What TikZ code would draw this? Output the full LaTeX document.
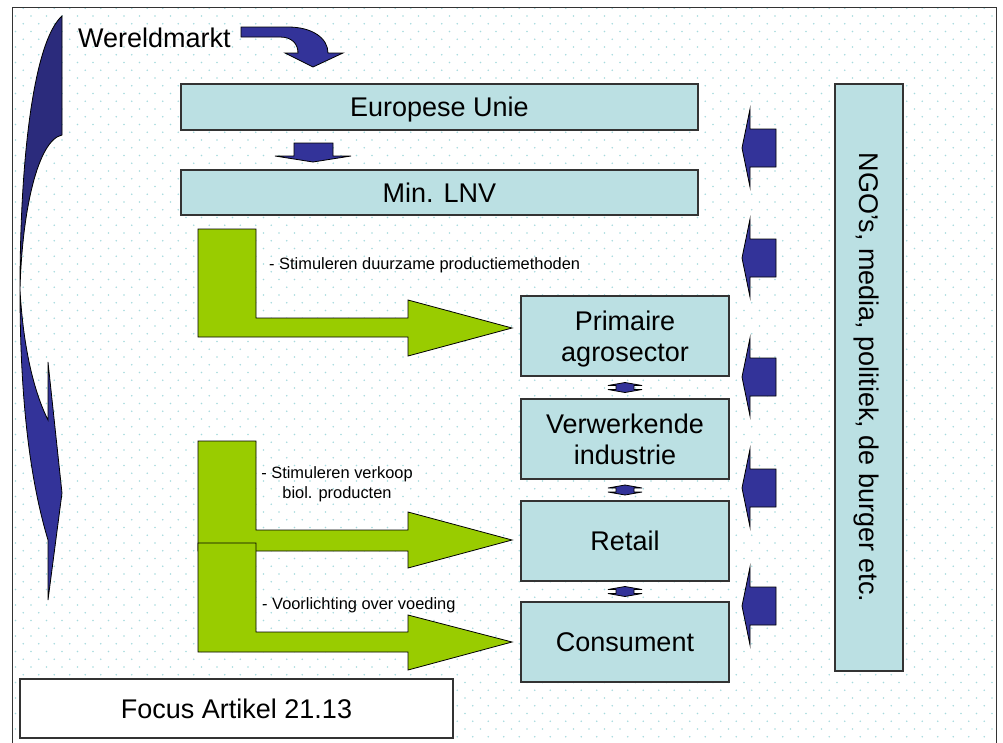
\documentclass[tikz,border=0pt]{standalone}
\usepackage{fontspec}
\setmainfont{Liberation Sans}
\usetikzlibrary{calc}
\definecolor{boxfill}{HTML}{BBE0E3}
\definecolor{leafgreen}{HTML}{99CC00}
\definecolor{navy}{HTML}{333399}
\definecolor{darknavy}{HTML}{2B2B7C}
\definecolor{dotcol}{HTML}{A6DADD}
\definecolor{edge}{HTML}{333333}

\begin{document}
\begin{tikzpicture}[x=1pt, y=-1pt,
		box/.style={draw=edge, line width=1.2pt, fill=boxfill, inner sep=0pt, align=center, text depth=0pt,
			font=\fontsize{27}{31.5}\selectfont},
		greenarr/.style={draw=black, line width=.8pt, fill=leafgreen},
		bluearr/.style={draw=black, line width=.8pt, fill=navy},
		small/.style={inner sep=0pt, font=\fontsize{16.4}{20}\selectfont}]
				\useasboundingbox (0,0) rectangle (1003,742);
				\begin{scope}
					\clip (12,7) rectangle (996,742);
					\foreach \r in {0,...,94} {
						\pgfmathsetmacro{\yy}{8.3+7.75*\r}
						\pgfmathsetmacro{\xs}{7.75+7.75*mod(\r,2)}
						\fill[dotcol] \foreach \c in {0,...,64} {(\xs+15.5*\c,\yy) circle (.9)};
					}
				\end{scope}
				\draw[edge, line width=1pt] (12,745) -- (12,7) -- (996,7) -- (996,745);
				% linker pijl
				\draw[bluearr, fill=darknavy] (62,16) -- (62,135) .. controls (38,140) and (22,210) .. (20,290)
					.. controls (20,150) and (35,40) .. (62,16) -- cycle;
				\draw[bluearr] (20,290) .. controls (24,360) and (38,400) .. (48,420) -- (48,362) -- (62,493) -- (48,600)
					-- (48,540) .. controls (30,480) and (20,400) .. (20,290) -- cycle;
				\node[inner sep=0pt, anchor=base west, font=\fontsize{27}{32}\selectfont] (wm) at (78,47) {Wereldmarkt};
				\draw[bluearr] (241,27) -- (288,27) .. controls (312,27) and (328,38) .. (328,53) -- (343,53) -- (313,67)
					-- (285,53) -- (298,53) .. controls (298,44) and (292,37) .. (280,37) -- (241,37) -- cycle;
				\node[box, minimum width=517pt, minimum height=46pt] (eu) at (439.5,107) {Europese Unie};
				\node[box, minimum width=517pt, minimum height=45pt] (lnv) at (439.5,192.5) {Min. LNV};
				\draw[bluearr] (294,143) -- (333,143) -- (333,156) -- (351,156) -- (313,162) -- (275,156) -- (294,156) -- cycle;
				\node[box, minimum width=208pt, minimum height=80pt] (prim) at (625,336) {Primaire\\agrosector};
				\node[box, minimum width=208pt, minimum height=80pt] (verw) at (625,439) {Verwerkende\\industrie};
				\node[box, minimum width=208pt, minimum height=80pt] (retail) at (625,541) {Retail};
				\node[box, minimum width=208pt, minimum height=80pt] (cons) at (625,642) {Consument};
				\node[box, rotate=-90, minimum width=587pt, minimum height=68pt] (ngo) at (869,377.5) {NGO’s, media, politiek, de burger etc.};
				\node[box, fill=white, minimum width=433pt, minimum height=59pt] (focus) at (236.5,708.5) {Focus Artikel 21.13};
				\foreach \a/\b in {prim/verw, verw/retail, retail/cons} {
					\coordinate (m) at ($(\a.south)!.5!(\b.north)$);
					\draw[bluearr, shift={(m)}] (0,-5) -- (17,-2) -- (9,-2) -- (9,2) -- (17,2) -- (0,5) -- (-17,2) -- (-9,2)
						-- (-9,-2) -- (-17,-2) -- cycle;
				}
				\foreach \c in {148,258,377,488,606} {
					\draw[bluearr] (776,\c-19) -- (750,\c-19) -- (750,\c-39) -- (742,\c) -- (750,\c+39) -- (750,\c+19)
						-- (776,\c+19) -- cycle;
				}
				% groene pijlen
				\draw[greenarr] (198,229) -- (256,229) -- (256,318) -- (408,318) -- (408,300) -- (512,328) -- (408,356)
					-- (408,337) -- (198,337) -- cycle;
				\draw[greenarr] (198,441) -- (256,441) -- (256,530) -- (408,530) -- (408,512) -- (512,540) -- (408,568)
					-- (408,551) -- (198,551) -- cycle;
				\draw[greenarr] (198,543) -- (256,543) -- (256,632) -- (408,632) -- (408,615) -- (512,642) -- (408,670)
					-- (408,652) -- (198,652) -- cycle;
				\node[small, anchor=base west] (duurzaam) at (269,269) {- Stimuleren duurzame productiemethoden};
				\node[small, anchor=north, align=center] (verkoop) at (337,466) {- Stimuleren verkoop\\biol. producten};
				\node[small, anchor=base west] (voeding) at (262,609) {- Voorlichting over voeding};
			\end{tikzpicture}
\end{document}
